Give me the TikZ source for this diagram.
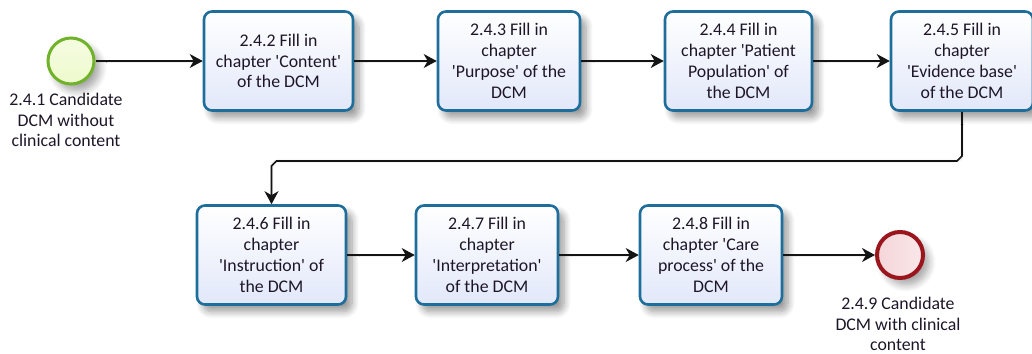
\documentclass[tikz,border=0pt]{standalone}
\usepackage{fontspec}
\setmainfont{Carlito}
\usetikzlibrary{arrows.meta,shadows.blur,backgrounds}

\definecolor{taskline}{RGB}{30,110,155}
\definecolor{taskfill}{RGB}{226,232,250}
\definecolor{startline}{RGB}{112,178,42}
\definecolor{startfill}{RGB}{238,250,205}
\definecolor{endline}{RGB}{155,22,28}
\definecolor{endfill}{RGB}{240,196,200}
\definecolor{txt}{RGB}{30,22,40}
\definecolor{flowline}{RGB}{20,20,20}

\newcommand{\sq}{\textquotesingle}

\tikzset{
  task/.style={draw=taskline, line width=2.6pt, rounded corners=8pt,
    top color=white, bottom color=taskfill,
    minimum height=99pt, inner sep=0pt, align=center, text=txt,
    font=\fontsize{17.8}{20.8}\selectfont,
    blur shadow={shadow xshift=6pt, shadow yshift=-7pt, shadow opacity=40,
      shadow blur steps=8, shadow blur radius=7pt}},
  startev/.style={circle, draw=startline, line width=3pt, minimum size=46pt,
    inner sep=0pt, top color=white!40!startfill, bottom color=startfill,
    blur shadow={shadow xshift=6pt, shadow yshift=-7pt, shadow opacity=35,
      shadow blur steps=8, shadow blur radius=7pt}},
  endev/.style={circle, draw=endline, line width=4pt, minimum size=46pt,
    inner sep=0pt, left color=white!30!endfill, right color=white!60!endfill,
    blur shadow={shadow xshift=6pt, shadow yshift=-7pt, shadow opacity=35,
      shadow blur steps=8, shadow blur radius=7pt}},
  evlabel/.style={align=center, text=txt, inner sep=0pt,
    font=\fontsize{17.8}{20.2}\selectfont},
  flow/.style={draw=flowline, line width=1.6pt,
    -{Stealth[length=13pt,width=14pt,inset=4pt]}},
  flowshade/.style={draw=black!6, line width=3pt, rounded corners=6pt}
}

\begin{document}
\begin{tikzpicture}[x=1pt,y=-1pt]
\useasboundingbox (0,0) rectangle (1032,353);

% start and end events
\node[startev] (start) at (71,61) {};
\node[evlabel] (startlbl) at (66,120) {2.4.1 Candidate\\DCM without\\clinical content};
\node[endev] (finish) at (900,255) {};
\node[evlabel] (endlbl) at (898,324) {2.4.9 Candidate\\DCM with clinical\\content};

% tasks, first row
\node[task, minimum width=149pt] (b2) at (278.5,61)
  {2.4.2 Fill in\\chapter \sq Content\sq\\of the DCM};
\node[task, minimum width=142pt] (b3) at (509,61)
  {2.4.3 Fill in\\chapter\\\sq Purpose\sq{} of the\\DCM};
\node[task, minimum width=147pt] (b4) at (738.5,61)
  {2.4.4 Fill in\\chapter \sq Patient\\Population\sq{} of\\the DCM};
\node[task, minimum width=142pt] (b5) at (962,61)
  {2.4.5 Fill in\\chapter\\\sq Evidence base\sq\\of the DCM};

% tasks, second row
\node[task, minimum width=149pt] (b6) at (271.5,255)
  {2.4.6 Fill in\\chapter\\\sq Instruction\sq{} of\\the DCM};
\node[task, minimum width=142pt] (b7) at (487,255)
  {2.4.7 Fill in\\chapter\\\sq Interpretation\sq\\of the DCM};
\node[task, minimum width=142pt] (b8) at (711,255)
  {2.4.8 Fill in\\chapter \sq Care\\process\sq{} of the\\DCM};

% bend points of the connector between the rows
\coordinate (k1) at (962,156);
\coordinate (k2) at (957,161);
\coordinate (k3) at (276.5,161);
\coordinate (k4) at (271.5,166);

% faint shadows of the sequence flows
\begin{scope}[on background layer, shift={(14,14)}]
  \draw[flowshade] (start.east) -- (b5.west);
  \draw[flowshade] (b5.south) -- (b5.south |- k2) -- (b6.north |- k2) -- (b6.north);
  \draw[flowshade] (b6.east) -- (finish.west);
\end{scope}

% sequence flows
\draw[flow] (start.east) -- (b2.west);
\draw[flow] (b2.east) -- (b3.west);
\draw[flow] (b3.east) -- (b4.west);
\draw[flow] (b4.east) -- (b5.west);
\draw[flow] (b5.south) -- (k1) -- (k2) -- (k3) -- (k4) -- (b6.north);
\draw[flow] (b6.east) -- (b7.west);
\draw[flow] (b7.east) -- (b8.west);
\draw[flow] (b8.east) -- (finish.west);
\end{tikzpicture}
\end{document}
